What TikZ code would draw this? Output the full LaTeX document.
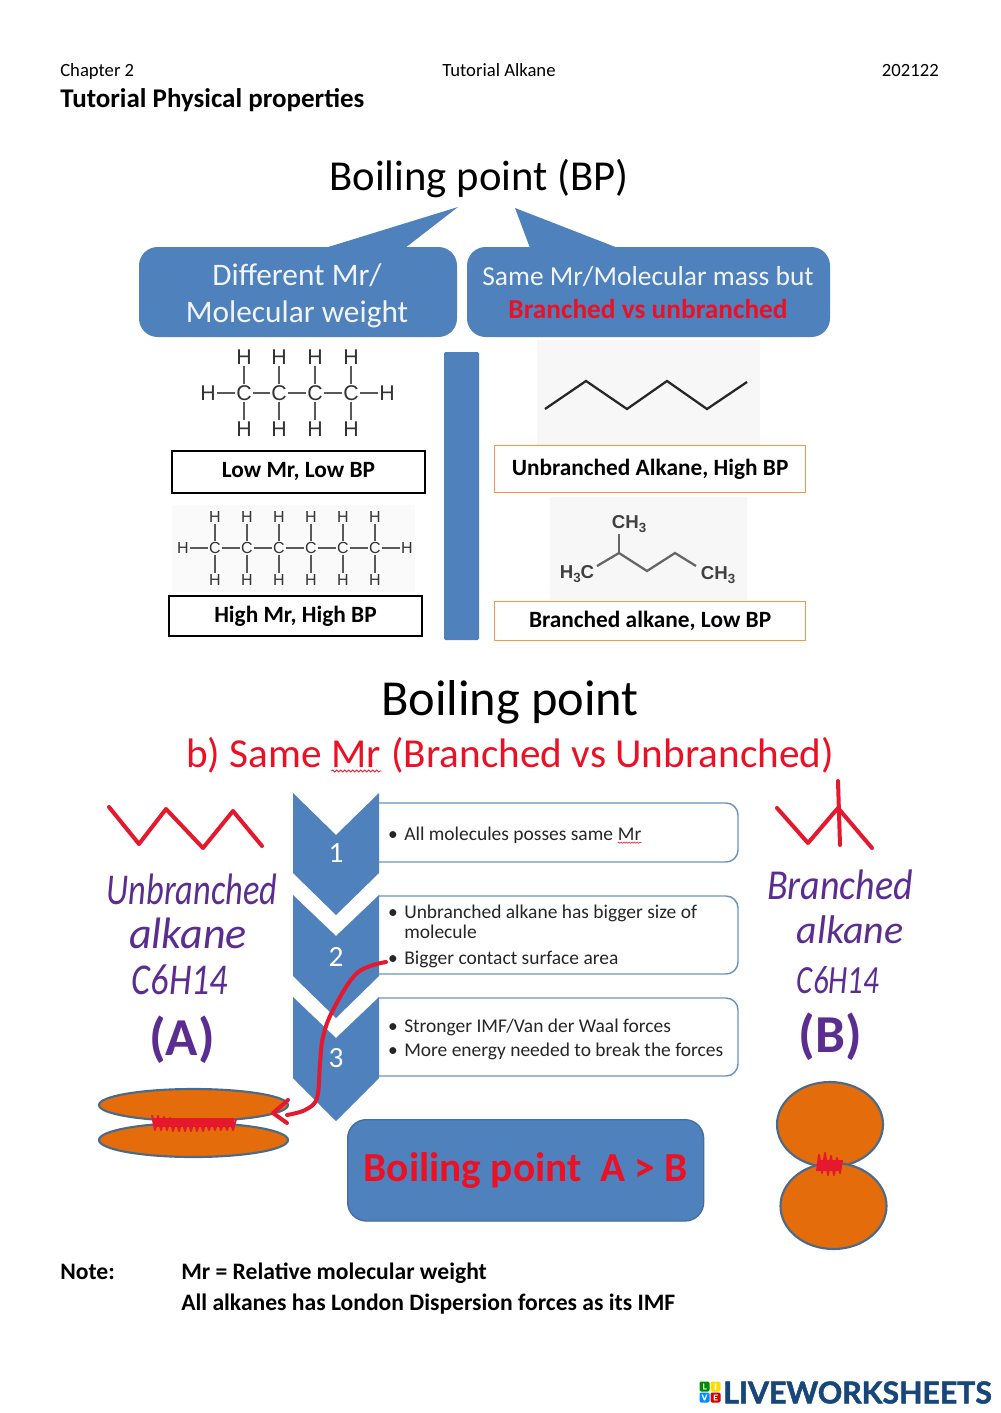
\documentclass[tikz,border=0pt]{standalone}
\usepackage{fontspec}
\setmainfont{Carlito}
\newfontfamily\arialf{Liberation Sans}
\newfontfamily\logof[BoldFeatures={FakeBold=1.6}]{Lato}
\usetikzlibrary{decorations.pathmorphing,calc}
\newcommand\fs[1]{\fontsize{#1}{#1}\selectfont}
\definecolor{blueb}{HTML}{4F81BD}
\definecolor{bord}{HTML}{6A94C0}
\definecolor{redt}{HTML}{EC1024}
\definecolor{redh}{HTML}{E5182E}
\definecolor{purp}{HTML}{5B2D91}
\definecolor{orng}{HTML}{E46C0A}
\definecolor{oline}{HTML}{F79646}
\definecolor{eline}{HTML}{4A6A8C}
\definecolor{navy}{HTML}{17477A}
\definecolor{pale}{HTML}{F7F7F7}
\tikzset{
  x=0.75pt,y=-0.75pt,
  txt/.style={inner sep=0pt,anchor=base},
  hdr/.style={txt,font=\fs{14}},
  note/.style={txt,anchor=base west,font=\fs{17.7}\bfseries},
  blue/.style={fill=blueb,draw=none},
  cbox/.style={fill=white,draw=bord,line width=1.1pt},
  pbox/.style={draw=black,line width=1.2pt,fill=white},
  obox/.style={draw=oline,line width=1.1pt,fill=white},
  lbl/.style={inner sep=0pt,font=\fs{17.5}\bfseries},
  bul/.style={txt,anchor=base west,font=\fs{14.6},text=black!85},
  num/.style={inner sep=0pt,text=white,font=\fs{22}},
  hand/.style={inner sep=0pt,text=purp,font=\fs{33}\itshape},
  atomA/.style={inner sep=1pt,font=\arialf\fs{16},text=black!80},
  atomB/.style={inner sep=1pt,font=\arialf\fs{12},text=black!80},
  bond/.style={line width=0.8pt,draw=black!65},
  redink/.style={draw=redh,line width=3pt,line cap=round,line join=round},
  molec/.style={fill=orng,draw=eline,line width=1.6pt},
  skel/.style={draw=black!85,line width=1.7pt,line join=miter},
  skelb/.style={draw=black!60,line width=1.7pt},
  logob/.style={minimum size=7.5pt,inner sep=0pt,rounded corners=1pt,text=white,font=\logof\bfseries\fs{6}}
}
\begin{document}
\begin{tikzpicture}
\useasboundingbox (0,0) rectangle (1000,1413);
\fill[white] (0,0) rectangle (1000,1413);

% header
\node[hdr,anchor=base west] (h1) at (60,77) {Chapter 2};
\node[hdr] (h2) at (499,77) {Tutorial Alkane};
\node[hdr,anchor=base east] (h3) at (939,77) {202122};
\node[txt,anchor=base west,font=\fs{20.25}\bfseries] (h4) at (60,108) {Tutorial Physical properties};

% first panel
\node[txt,font=\fs{32}] (t1) at (479,190) {Boiling point (BP)};
\fill[pale] (537,340) rectangle (760,445);
\fill[pale] (550,497) rectangle (747,600);
\fill[black!2] (172,505) rectangle (415,592);

\fill[blue,rounded corners=14pt] (139,247) rectangle (457,337);
\fill[blue] (325,248) -- (458,207) -- (405,248) -- cycle;
\fill[blue,rounded corners=14pt] (467,247) rectangle (830,337);
\fill[blue] (530,248) -- (515,208) -- (618,248) -- cycle;
\node[txt,text=white!92!blueb,font=\fs{23.5}] (c1) at (297,285) {Different Mr/};
\node[txt,text=white!92!blueb,font=\fs{23.5}] (c2) at (297,322) {Molecular weight};
\node[txt,text=white!92!blueb,font=\fs{20.6}] (c3) at (648,285) {Same Mr/Molecular mass but};
\node[txt,text=redt,font=\fs{20.5}\bfseries] (c4) at (648,318) {Branched vs unbranched};

\fill[blue,rounded corners=1pt] (444,352) rectangle (479,640);

% butane
\foreach \i/\x in {1/244,2/279,3/315,4/351}{
  \node[atomA] (ac\i) at (\x,393) {C};
  \node[atomA] (at\i) at (\x,357) {H};
  \node[atomA] (ab\i) at (\x,429) {H};
  \draw[bond] (ac\i) -- (at\i);
  \draw[bond] (ac\i) -- (ab\i);
}
\node[atomA] (al) at (208,393) {H};
\node[atomA] (ar) at (387,393) {H};
\draw[bond] (al)--(ac1); \draw[bond] (ac1)--(ac2); \draw[bond] (ac2)--(ac3); \draw[bond] (ac3)--(ac4); \draw[bond] (ac4)--(ar);

% hexane
\foreach \i/\x in {1/215,2/247,3/279,4/311,5/343,6/375}{
  \node[atomB] (bc\i) at (\x,548) {C};
  \node[atomB] (bt\i) at (\x,517) {H};
  \node[atomB] (bb\i) at (\x,580) {H};
  \draw[bond] (bc\i) -- (bt\i);
  \draw[bond] (bc\i) -- (bb\i);
}
\node[atomB] (bl) at (183,548) {H};
\node[atomB] (br) at (407,548) {H};
\draw[bond] (bl)--(bc1); \draw[bond] (bc1)--(bc2); \draw[bond] (bc2)--(bc3); \draw[bond] (bc3)--(bc4); \draw[bond] (bc4)--(bc5); \draw[bond] (bc5)--(bc6); \draw[bond] (bc6)--(br);

% skeletal formulas
\draw[skel] (545,409)--(586,381)--(627,409)--(667,381)--(707,409)--(747,382);
\node[inner sep=1pt,font=\arialf\bfseries\fs{14},text=black!75] (s1) at (629,524) {CH\raisebox{-3pt}{\fs{10}3}};
\node[inner sep=1pt,font=\arialf\bfseries\fs{14},text=black!75] (s2) at (577,574) {H\raisebox{-3pt}{\fs{10}3}C};
\node[inner sep=1pt,font=\arialf\bfseries\fs{14},text=black!75] (s3) at (718,575) {CH\raisebox{-3pt}{\fs{10}3}};
\coordinate (j1) at (619,553);
\coordinate (j2) at (647,571);
\coordinate (j3) at (675,553);
\draw[skelb] (619,534)--(j1);
\draw[skelb] (597,566)--(j1)--(j2)--(j3)--(696,566);

\node[pbox,minimum width=190pt,minimum height=31.5pt,lbl,anchor=north west] (b1) at (171,450) {\raisebox{-0.5pt}{Low Mr, Low BP}};
\node[pbox,minimum width=190pt,minimum height=30pt,lbl,anchor=north west] (b2) at (168,595) {High Mr, High BP};
\node[obox,minimum width=233pt,minimum height=35pt,lbl,anchor=north west] (b3) at (494,445) {\raisebox{-0.5pt}{Unbranched Alkane, High BP}};
\node[obox,minimum width=233pt,minimum height=29pt,lbl,anchor=north west] (b4) at (494,601) {Branched alkane, Low BP};

% second panel
\node[txt,font=\fs{37.8}] (t2) at (510,715) {Boiling point};
\node[txt,text=redt,font=\fs{30.9}] (t3) at (510,767) {b) Same \tikz[baseline=(m.base)]{\node[inner sep=0pt,text=redt] (m) {Mr}; \draw[redt,line width=0.6pt,decorate,decoration={snake,amplitude=0.8pt,segment length=3pt}] ([yshift=-3pt]m.base west)--([yshift=-3pt]m.base east);} (Branched vs Unbranched)};

% rounded text boxes
\draw[cbox,rounded corners=9pt] (379,803) -- (738,803) -- (738,862) -- (379,862);
\draw[cbox,rounded corners=9pt] (379,896) -- (738,896) -- (738,974) -- (379,974);
\draw[cbox,rounded corners=9pt] (379,998) -- (738,998) -- (738,1076) -- (379,1076);

% chevrons
\fill[blue] (293,793) -- (336,835) -- (379,793) -- (379,873) -- (336,915) -- (293,873) -- cycle;
\fill[blue] (293,895) -- (336,936) -- (379,895) -- (379,976) -- (336,1018) -- (293,976) -- cycle;
\fill[blue] (293,997) -- (336,1038) -- (379,997) -- (379,1078) -- (336,1121) -- (293,1078) -- cycle;
\node[num] (n1) at (336,853) {1};
\node[num] (n2) at (336,957) {2};
\node[num] (n3) at (336,1058) {3};

\node[bul,anchor=base] (d1) at (393,840) {•};
\node[bul] (e1) at (404,840) {All molecules posses same \tikz[baseline=(r.base)]{\node[inner sep=0pt] (r) {Mr}; \draw[redt,line width=0.4pt,decorate,decoration={snake,amplitude=0.5pt,segment length=2pt}] ([yshift=-2pt]r.base west)--([yshift=-2pt]r.base east);}};
\node[bul,anchor=base] (d2) at (393,918) {•};
\node[bul] (e2) at (404,918) {Unbranched alkane has bigger size of};
\node[bul] (e3) at (404,938) {molecule};
\node[bul,anchor=base] (d3) at (393,964) {•};
\node[bul] (e4) at (404,964) {Bigger contact surface area};
\node[bul,anchor=base] (d4) at (393,1032) {•};
\node[bul] (e5) at (404,1032) {Stronger IMF/Van der Waal forces};
\node[bul,anchor=base] (d5) at (393,1056) {•};
\node[bul] (e6) at (404,1056) {More energy needed to break the forces};

% result box
\node[fill=blueb,draw=blueb!85!black,line width=1pt,rounded corners=14pt,minimum width=267pt,minimum height=76pt,anchor=north west,inner sep=0pt,text=redt,font=\fs{31}\bfseries] (res) at (347,1119) {\raisebox{-4pt}{Boiling point\ \ A > B}};

% hand-drawn skeletons
\draw[redink] (109,807)--(139,844)--(166,809)--(203,848)--(233,811)--(262,846);
\draw[redink] (777,808)--(808,843)--(838,808)--(872,848);
\draw[redink] (838,781)--(840,845);

% hand-written labels
\node[hand,font=\fs{33}\itshape,xscale=0.78,transform shape] (u1) at (192,889) {Unbranched};
\node[hand] (u2) at (188,933) {alkane};
\node[hand,font=\fs{33}\itshape,xscale=0.82,transform shape] (u3) at (180,980) {C6H14};
\node[hand,font=\fs{40}\bfseries] (u4) at (182,1040) {(A)};
\node[hand,font=\fs{32}\itshape,xscale=0.89,transform shape] (v1) at (840,885) {Branched};
\node[hand,font=\fs{30}\itshape] (v2) at (850,930) {alkane};
\node[hand,font=\fs{30}\itshape,xscale=0.77,transform shape] (v3) at (838,980) {C6H14};
\node[hand,font=\fs{40}\bfseries] (v4) at (830,1037) {(B)};

% molecules
\draw[molec] (193.5,1105) ellipse [x radius=94.5,y radius=16];
\draw[molec] (193.5,1140) ellipse [x radius=94.5,y radius=17];
\draw[molec] (830,1124.5) ellipse [x radius=53,y radius=42.5];
\draw[molec] (833.5,1206) ellipse [x radius=53,y radius=43];

% scribbles
\draw[draw=redh,line width=1.5pt,line join=round] (152,1115)--(155,1130)--(158,1116)--(161,1130)--(164,1117)--(167,1130)--(170,1118)--(173,1131)--(176,1119)--(179,1131)--(182,1119)--(185,1131)--(188,1119)--(191,1131)--(194,1119)--(197,1131)--(200,1120)--(203,1131)--(206,1120)--(209,1130)--(212,1120)--(215,1130)--(218,1120)--(221,1130)--(224,1121)--(227,1130)--(230,1120)--(233,1130)--(236,1119);
\fill[redh] (154,1118) rectangle (234,1127);
\draw[draw=redh,line width=1.5pt,line join=round] (817,1171)--(819,1155)--(822,1173)--(825,1153)--(828,1175)--(831,1156)--(834,1175)--(837,1158)--(840,1173)--(842,1160);
\fill[redh] (818,1160) rectangle (841,1171);

% red arrow
\coordinate (ra) at (386,962);
\coordinate (rb) at (287,1115);
\draw[redink] plot[smooth,tension=0.6] coordinates {(ra) (357,973) (333,1010) (323,1037) (320,1063) (317,1098) (305,1110) (rb)};
\draw[redink] (288,1100)--(273,1113)--(287,1123);

% note
\node[note] (k1) at (60,1279.5) {Note:};
\node[note] (k2) at (181,1279.5) {Mr = Relative molecular weight};
\node[note] (k3) at (181,1310.5) {All alkanes has London Dispersion forces as its IMF};

% logo
\node[logob,fill=green!55!black] (l1) at (704.5,1386.5) {L};
\node[logob,fill=yellow!80!orange] (l2) at (715.5,1386.5) {I};
\node[logob,fill=blue!45!cyan] (l3) at (704.5,1397.5) {V};
\node[logob,fill=red!85!black] (l4) at (715.5,1397.5) {E};
\node[inner sep=0pt,anchor=west,text=navy,font=\logof\bfseries\fs{22.7}] (l5) at (723,1392.5) {LIVEWORKSHEETS};
\end{tikzpicture}
\end{document}
